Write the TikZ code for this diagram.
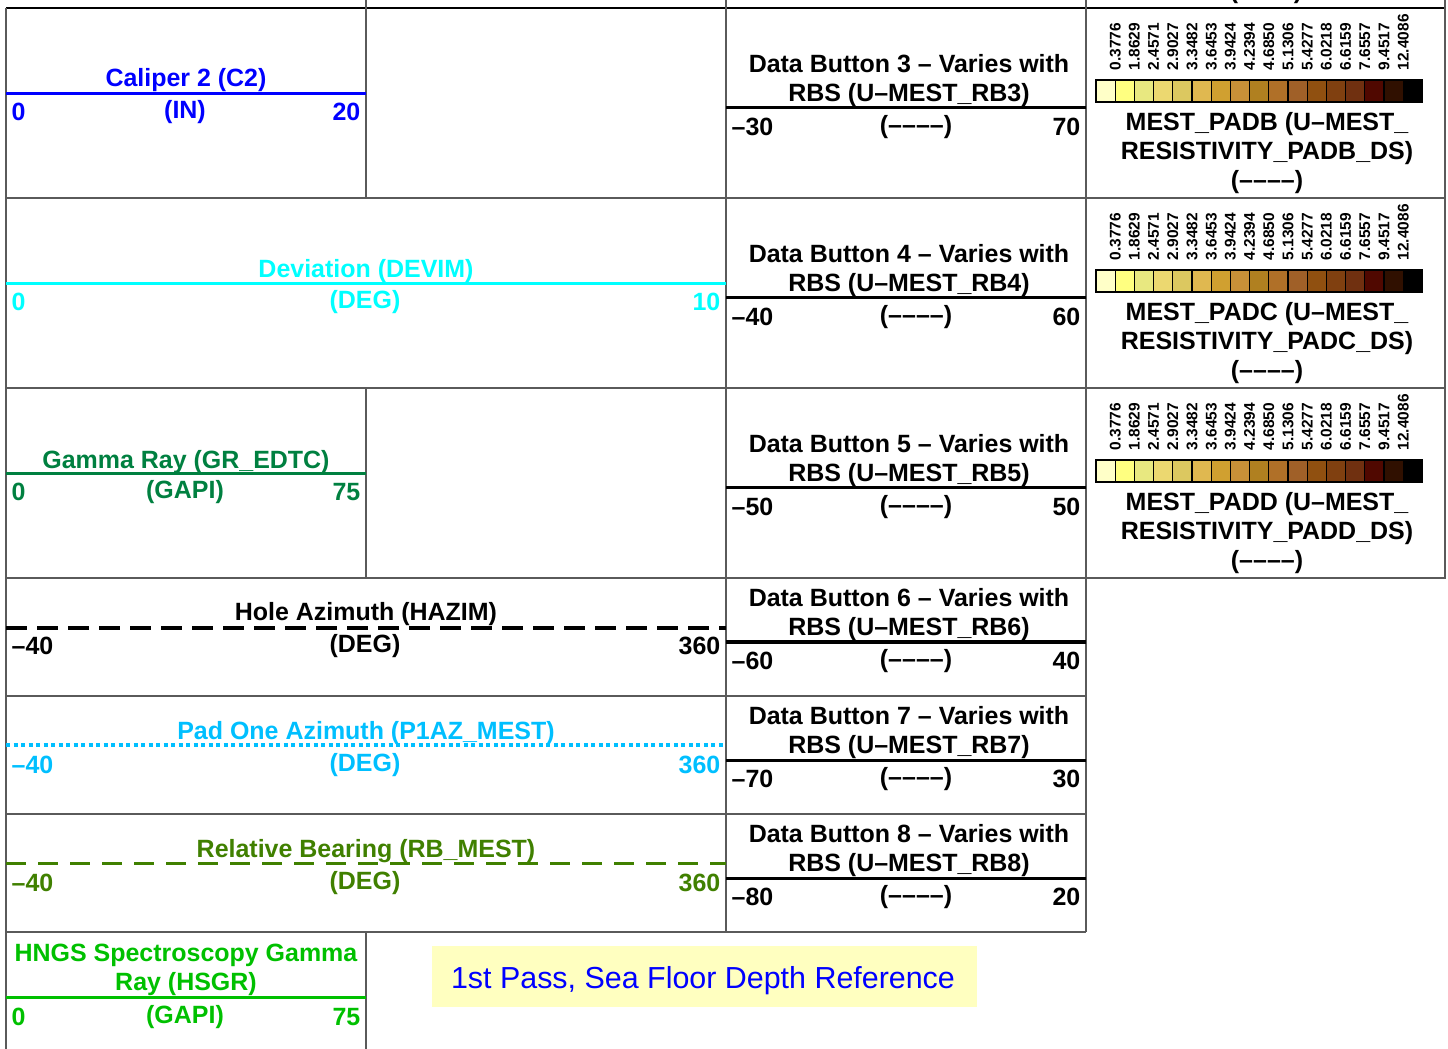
\documentclass[tikz,border=0pt]{standalone}
\usepackage{fontspec}
\setmainfont{Liberation Sans}

\definecolor{cdev}{RGB}{0,255,255}
\definecolor{cblue}{RGB}{0,0,255}
\definecolor{cgamma}{RGB}{0,128,64}
\definecolor{cpad}{RGB}{0,191,255}
\definecolor{crb}{RGB}{64,128,0}
\definecolor{chngs}{RGB}{0,192,0}
\definecolor{cnote}{RGB}{255,255,192}
\definecolor{cgrid}{RGB}{90,90,90}
% escala de colores de resistividad
\definecolor{pa}{RGB}{255,255,200}
\definecolor{pb}{RGB}{255,255,128}
\definecolor{pc}{RGB}{232,232,128}
\definecolor{pd}{RGB}{236,216,112}
\definecolor{pe}{RGB}{220,200,96}
\definecolor{pf}{RGB}{224,184,80}
\definecolor{pg}{RGB}{208,160,48}
\definecolor{ph}{RGB}{200,144,56}
\definecolor{pi}{RGB}{176,128,32}
\definecolor{pj}{RGB}{176,112,40}
\definecolor{pk}{RGB}{160,96,40}
\definecolor{pl}{RGB}{144,80,16}
\definecolor{pm}{RGB}{128,64,16}
\definecolor{pn}{RGB}{112,48,16}
\definecolor{po}{RGB}{80,8,0}
\definecolor{pp}{RGB}{48,16,0}
\definecolor{pq}{RGB}{0,0,0}

\tikzset{
  hdr/.style={font=\bfseries\fontsize{7.1}{8.25}\selectfont, align=center, inner sep=0pt, yshift=-0.02cm},
  scl/.style={font=\bfseries\fontsize{7.1}{8.25}\selectfont, inner sep=0pt, yshift=-0.02cm},
  tick/.style={font=\bfseries\fontsize{4.4}{5}\selectfont, inner sep=0pt, rotate=90, anchor=west},
  cellline/.style={draw=cgrid, line width=0.45pt},
  crv/.style={line width=0.03cm},
  cellbox/.style={draw=black, line width=0.3pt},
}

\begin{document}
\begin{tikzpicture}[x=0.01cm, y=-0.01cm]
    \useasboundingbox (0,0) rectangle (1448,1049);
    \clip (0,0) rectangle (1448,1049);

    % Rejilla de la cabecera
    \draw[black, line width=0.6pt] (6,8) -- (1446,8);
    \draw[cellline] (6,198) -- (1446,198);
    \draw[cellline] (6,388) -- (1446,388);
    \draw[cellline] (6,578) -- (1446,578);
    \draw[cellline] (6,696) -- (1086,696);
    \draw[cellline] (6,814) -- (1086,814);
    \draw[cellline] (6,932) -- (1086,932);
    \draw[cellline] (6,8) -- (6,1049);
    \draw[cellline] (366,0) -- (366,198);
    \draw[cellline] (366,388) -- (366,578);
    \draw[cellline] (366,932) -- (366,1049);
    \draw[cellline] (726,0) -- (726,932);
    \draw[cellline] (1086,0) -- (1086,932);
    \draw[cellline] (1445,0) -- (1445,578);

    % Curvas de la columna izquierda
    \node[hdr, text=cblue] (c2ttl) at (186,78) {Caliper 2 (C2)};
    \draw[crv, cblue] (6,94) -- (366,94);
    \node[scl, text=cblue, anchor=west] (c2min) at (11,110) {0};
    \node[scl, text=cblue] (c2unit) at (185,110) {(IN)};
    \node[scl, text=cblue, anchor=east] (c2max) at (361,110) {20};

    \node[hdr, text=cdev] (devttl) at (366,269) {Deviation (DEVIM)};
    \draw[crv, cdev] (6,284) -- (726,284);
    \node[scl, text=cdev, anchor=west] (devmin) at (11,300) {0};
    \node[scl, text=cdev] (devunit) at (365,300) {(DEG)};
    \node[scl, text=cdev, anchor=east] (devmax) at (721,300) {10};

    \node[hdr, text=cgamma] (grttl) at (186,460) {Gamma Ray (GR\_EDTC)};
    \draw[crv, cgamma] (6,474) -- (366,474);
    \node[scl, text=cgamma, anchor=west] (grmin) at (11,490) {0};
    \node[scl, text=cgamma] (grunit) at (185,490) {(GAPI)};
    \node[scl, text=cgamma, anchor=east] (grmax) at (361,490) {75};

    \node[hdr] (hazttl) at (366,612) {Hole Azimuth (HAZIM)};
    \draw[crv, black, dash pattern=on 0.21cm off 0.1cm] (6,628) -- (726,628);
    \node[scl, anchor=west] (hazmin) at (11,644) {–40};
    \node[scl] (hazunit) at (365,644) {(DEG)};
    \node[scl, anchor=east] (hazmax) at (721,644) {360};

    \node[hdr, text=cpad] (p1ttl) at (366,731) {Pad One Azimuth (P1AZ\_MEST)};
    \draw[crv, cpad, dash pattern=on 0.04cm off 0.035cm] (6,745) -- (726,745);
    \node[scl, text=cpad, anchor=west] (p1min) at (11,763) {–40};
    \node[scl, text=cpad] (p1unit) at (365,763) {(DEG)};
    \node[scl, text=cpad, anchor=east] (p1max) at (721,763) {360};

    \node[hdr, text=crb] (rbttl) at (366,849) {Relative Bearing (RB\_MEST)};
    \draw[crv, crb, dash pattern=on 0.2cm off 0.12cm] (6,863) -- (726,863);
    \node[scl, text=crb, anchor=west] (rbmin) at (11,881) {–40};
    \node[scl, text=crb] (rbunit) at (365,881) {(DEG)};
    \node[scl, text=crb, anchor=east] (rbmax) at (721,881) {360};

    \node[hdr, text=chngs] (hsgrttl) at (186,967.5) {HNGS Spectroscopy Gamma\\Ray (HSGR)};
    \draw[crv, chngs] (6,997) -- (366,997);
    \node[scl, text=chngs, anchor=west] (hsgrmin) at (11,1015) {0};
    \node[scl, text=chngs] (hsgrunit) at (185,1015) {(GAPI)};
    \node[scl, text=chngs, anchor=east] (hsgrmax) at (361,1015) {75};

    % Botones de datos
    \foreach \b/\yy/\lo/\hi in {3/108/–30/70, 4/298/–40/60, 5/488/–50/50,
                                6/642/–60/40, 7/760/–70/30, 8/878/–80/20} {
      \node[hdr] (db\b ttl) at (909,\yy-29.5) {Data Button \b{} – Varies with\\RBS (U–MEST\_RB\b)};
      \draw[crv, black] (726,\yy) -- (1086,\yy);
      \node[scl, anchor=west] (db\b min) at (731,\yy+17) {\lo};
      \node[scl] (db\b unit) at (916,\yy+17) {(––––)};
      \node[scl, anchor=east] (db\b max) at (1081,\yy+17) {\hi};
    }

    % Escalas de color de las almohadillas
    \node[scl] (padAunit) at (1266,-10) {(––––)};
    \foreach \pad [count=\r from 0] in {B,C,D} {
      \pgfmathsetmacro\dy{190*\r}
      \foreach \c [count=\i from 0] in {pa,pb,pc,pd,pe,pf,pg,ph,pi,pj,pk,pl,pm,pn,po,pp,pq}
        \filldraw[cellbox, fill=\c] ({1096+19.2*\i},{80+\dy}) rectangle ++(19.2,22);
      \foreach \v [count=\i] in {0.3776,1.8629,2.4571,2.9027,3.3482,3.6453,3.9424,4.2394,
                                 4.6850,5.1306,5.4277,6.0218,6.6159,7.6557,9.4517,12.4086}
        \node[tick] (tk\pad\i) at ({1096+19.2*\i},{71+\dy}) {\v};
      \node[hdr] (pad\pad ttl) at (1267,{151+\dy}) {MEST\_PAD\pad{} (U–MEST\_\\RESISTIVITY\_PAD\pad\_DS)\\(––––)};
    }

    % Nota de referencia
    \node[fill=cnote, minimum width=5.45cm, minimum height=0.61cm, inner sep=0pt] (note) at (704.5,976.5) {};
    \node[font=\fontsize{8.65}{10}\selectfont, text=cblue, inner sep=0pt] (notetxt) at (703,981)
          {1st Pass, Sea Floor Depth Reference};
\end{tikzpicture}
\end{document}
